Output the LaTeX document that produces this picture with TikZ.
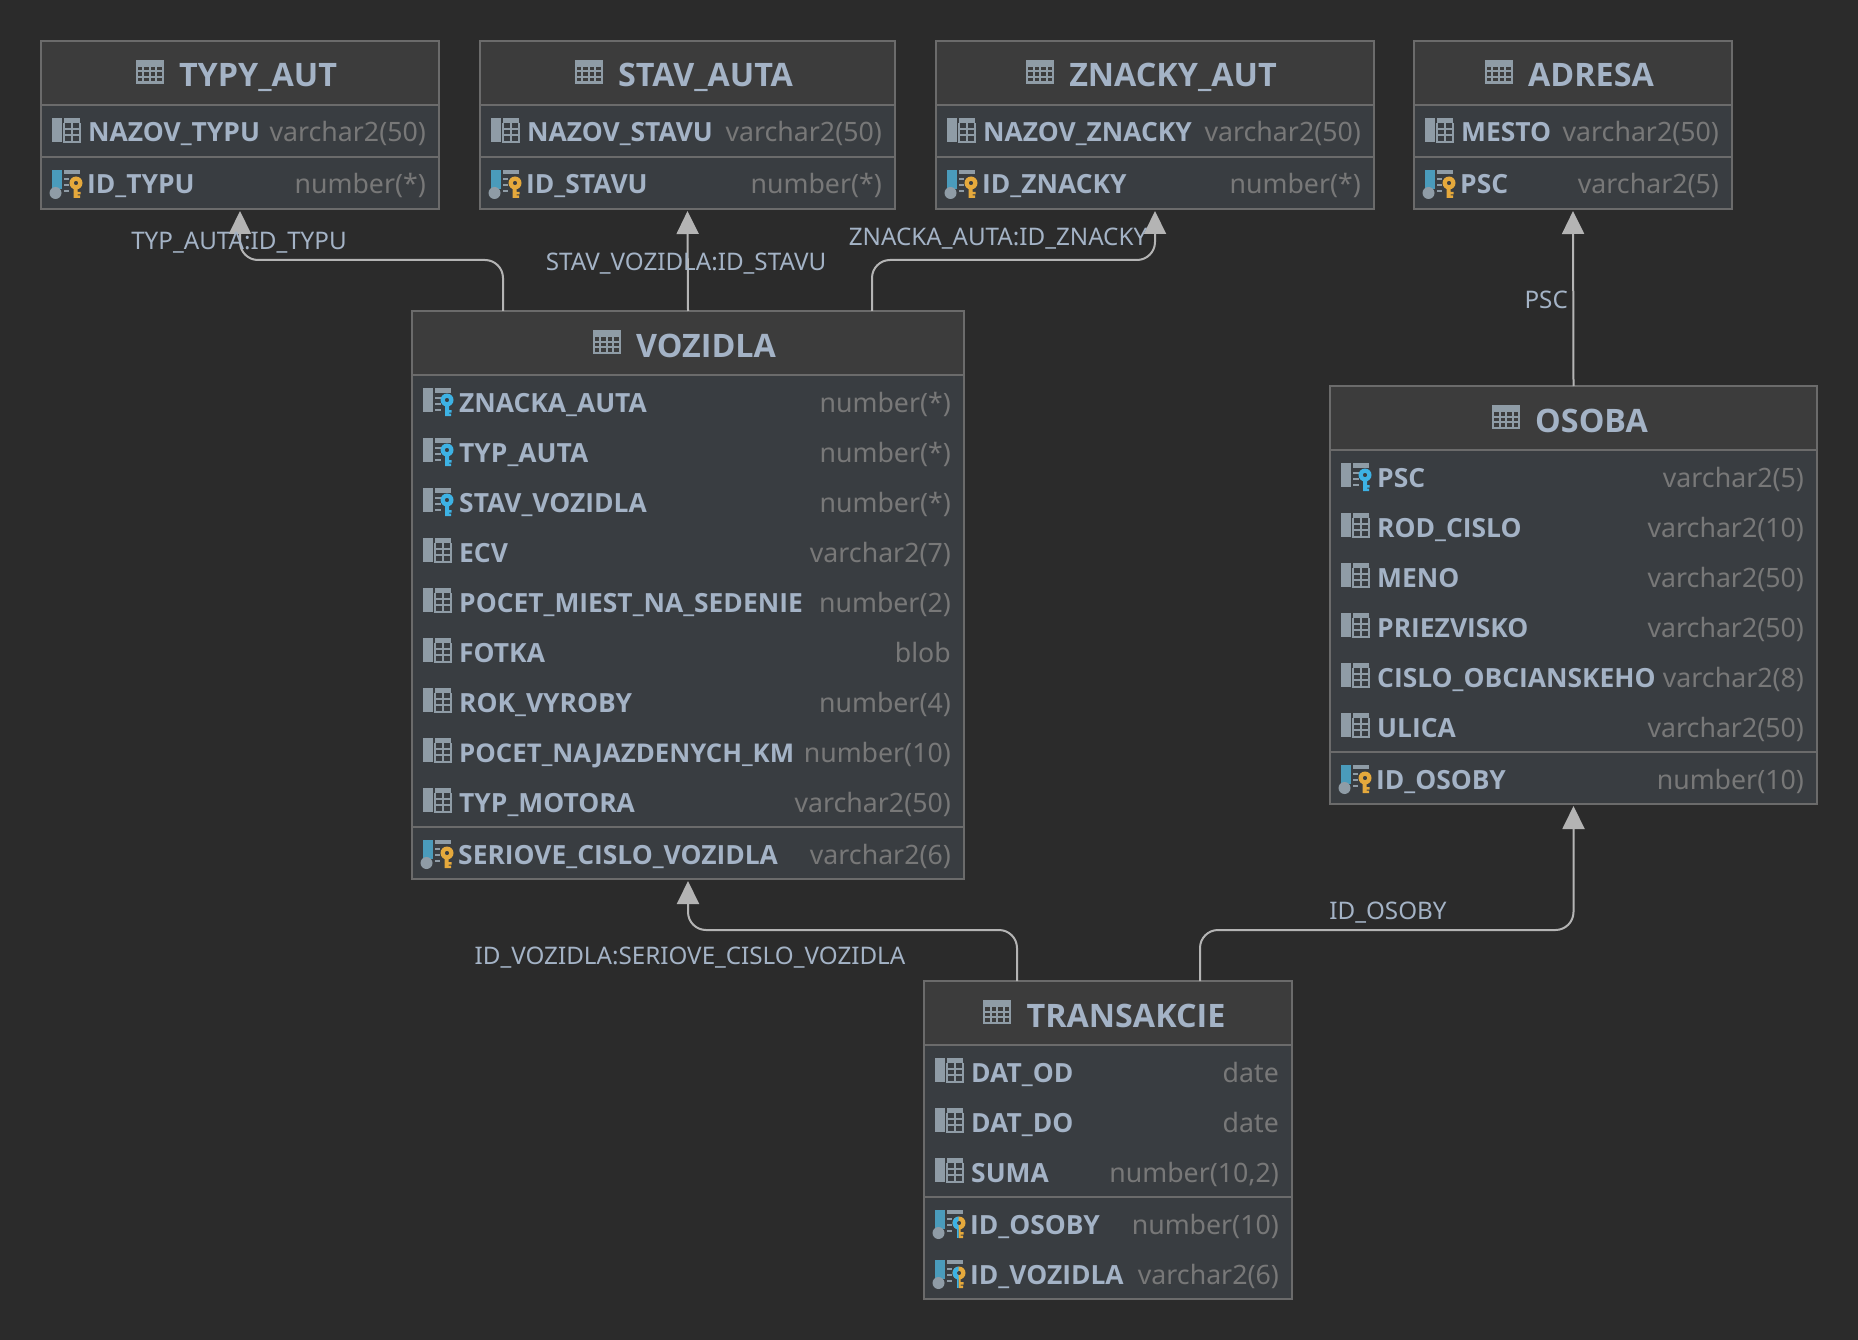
\documentclass[tikz,border=0pt]{standalone}
\usepackage{fontspec}
\setmainfont{Noto Sans}
\newfontfamily\dbbold{Open Sans}
\usepackage{tikz}
\usetikzlibrary{arrows.meta, calc, positioning}

\definecolor{canvasbg}{HTML}{2B2B2B}
\definecolor{headbg}{HTML}{3C3C3C}
\definecolor{rowbg}{HTML}{393D41}
\definecolor{edgegray}{HTML}{6B6B6B}
\definecolor{namecol}{HTML}{A4B3C6}
\definecolor{typecol}{HTML}{787878}
\definecolor{linkcol}{HTML}{B4B4B4}
\definecolor{iconcol}{HTML}{8F9CA6}
\definecolor{pkblue}{HTML}{4A9BBB}
\definecolor{keyyellow}{HTML}{E5A93C}
\definecolor{keyblue}{HTML}{3DB2E4}

\tikzset{
  tablebox/.style={draw=edgegray,fill=rowbg,line width=2pt,inner sep=0pt,outer sep=0pt},
  tableline/.style={edgegray,line width=2pt},
  titletext/.style={anchor=base,inner sep=0pt,text=namecol,font=\dbbold\bfseries\fontsize{32.3pt}{36pt}\selectfont},
  nametext/.style={anchor=base west,inner sep=0pt,text=namecol,font=\dbbold\bfseries\fontsize{26.4pt}{30pt}\selectfont},
  typetext/.style={anchor=base east,inner sep=0pt,text=typecol,font=\fontsize{26.7pt}{30pt}\selectfont},
  linktext/.style={anchor=base,inner sep=0pt,text=namecol,font=\fontsize{24.2pt}{28pt}\selectfont},
  fkline/.style={linkcol,line width=2pt,rounded corners=18pt,shorten >=2pt,
    -{Triangle[width=22pt,length=23pt]}},
  tableicon/.pic={
    \fill[iconcol] (0,0) rectangle (28,24);
    \foreach \cx in {2,8.5,15,21.5}
      \foreach \cy in {7,12.5,18}
        \fill[headbg] (\cx,\cy) rectangle ++(4.5,3.5);
  },
  colgrid/.pic={
    \fill[iconcol] (0,0) rectangle (10,24);
    \fill[iconcol] (12,0) rectangle (28,5);
    \draw[iconcol,line width=1.5pt] (12,5) -- (12,24) -- (28,24) -- (28,5)
      (12,11) -- (28,11) (12,17) -- (28,17) (20,5) -- (20,24);
  },
  pkbase/.pic={
    \fill[pkblue] (0,1) rectangle (10,20);
    \fill[iconcol] (3.5,24) circle (6);
    \fill[iconcol] (12,1) rectangle (28,5);
    \draw[iconcol,line width=1.5pt] (12,10) -- (17,10) (12,16) -- (17,16) (12,22) -- (17,22);
  },
  pkicon/.pic={
    \pic at (0,0) {pkbase};
    \fill[keyyellow,even odd rule] (24,14) circle (6.5) (24,14) circle (2.2);
    \fill[keyyellow] (21.5,19) rectangle (25.5,29) (25,23) rectangle (28.5,25.5) (25,26.5) rectangle (28,29);
  },
  pfkicon/.pic={
    \pic at (0,0) {pkbase};
    \fill[keyyellow,even odd rule] (24,14) circle (6.5) (24,14) circle (2.2);
    \fill[keyyellow] (23.5,19) rectangle (25.5,29) (25,23) rectangle (28.5,25.5) (25,26.5) rectangle (28,29);
    \begin{scope}
      \clip (15,5) rectangle (23.5,31);
      \fill[keyblue,even odd rule] (24,14) circle (6.5) (24,14) circle (2.2);
      \fill[keyblue] (21.5,19) rectangle (25.5,29);
    \end{scope}
  },
  fkicon/.pic={
    \fill[iconcol] (0,0) rectangle (10,24);
    \fill[iconcol] (12,0) rectangle (28,5);
    \draw[iconcol,line width=1.5pt] (12,10) -- (18,10) (12,16) -- (18,16) (12,22) -- (18,22);
    \fill[keyblue,even odd rule] (24,12) circle (6.5) (24,12) circle (2.2);
    \fill[keyblue] (22,17) rectangle (26,28) (25,22) rectangle (28.5,24.5) (25,25.5) rectangle (28,28);
  }
}

% name, left, right, top, separator, bottom, title, columns, key columns
\newcommand{\dbtable}[9]{
  \node[tablebox,minimum width={#3-#2},minimum height={#6-#4}] (#1) at ({(#2+#3)/2},{(#4+#6)/2}) {};
  \fill[headbg] ({#2+1},{#4+1}) rectangle ({#3-1},{#4+64});
  \draw[tableline] (#2,{#4+64}) -- (#3,{#4+64});
  \draw[tableline] (#2,#5) -- (#3,#5);
  \node[titletext] (#1-title) at ({(#2+#3)/2+18},{#4+46}) {#7};
  \pic at ($(#1-title.base west)+(-43,-27)$) {tableicon};
  \foreach \cname/\ctype/\cicon [count=\i] in {#8} {
    \pgfmathsetmacro{\rowy}{#4+92+(\i-1)*50}
    \pic at ({#2+11},{\rowy-15}) {\cicon};
    \node[nametext] (#1-name-\i) at ({#2+47},{\rowy+9}) {\cname};
    \node[typetext] (#1-type-\i) at ({#3-13},{\rowy+9}) {\ctype};
  }
  \foreach \cname/\ctype/\cicon [count=\i] in {#9} {
    \pgfmathsetmacro{\rowy}{#5+27+(\i-1)*50}
    \pic at ({#2+11},{\rowy-15}) {\cicon};
    \node[nametext] (#1-key-\i) at ({#2+46},{\rowy+10}) {\cname};
    \node[typetext] (#1-keytype-\i) at ({#3-13},{\rowy+10}) {\ctype};
  }
}

\begin{document}
\begin{tikzpicture}[x=1pt,y=-1pt]
  \fill[canvasbg] (0,0) rectangle (1858,1340);
  \useasboundingbox (0,0) rectangle (1858,1340);

  % Lookup tables along the top
  \dbtable{typy}{41}{439}{41}{157}{209}{TYPY\_AUT}
    {NAZOV\_TYPU/varchar2(50)/colgrid}{ID\_TYPU/number(*)/pkicon}
  \dbtable{stav}{480}{895}{41}{157}{209}{STAV\_AUTA}
    {NAZOV\_STAVU/varchar2(50)/colgrid}{ID\_STAVU/number(*)/pkicon}
  \dbtable{znacky}{936}{1374}{41}{157}{209}{ZNACKY\_AUT}
    {NAZOV\_ZNACKY/varchar2(50)/colgrid}{ID\_ZNACKY/number(*)/pkicon}
  \dbtable{adresa}{1414}{1732}{41}{157}{209}{ADRESA}
    {MESTO/varchar2(50)/colgrid}{PSC/varchar2(5)/pkicon}

  % Main tables
  \dbtable{vozidla}{412}{964}{311}{827}{879}{VOZIDLA}
    {ZNACKA\_AUTA/number(*)/fkicon,
     TYP\_AUTA/number(*)/fkicon,
     STAV\_VOZIDLA/number(*)/fkicon,
     ECV/varchar2(7)/colgrid,
     POCET\_MIEST\_NA\_SEDENIE/number(2)/colgrid,
     FOTKA/blob/colgrid,
     ROK\_VYROBY/number(4)/colgrid,
     {\fontsize{25.8pt}{30pt}\selectfont POCET\_NAJAZDENYCH\_KM}/number(10)/colgrid,
     TYP\_MOTORA/varchar2(50)/colgrid}{SERIOVE\_CISLO\_VOZIDLA/varchar2(6)/pkicon}
  \dbtable{osoba}{1330}{1817}{386}{752}{804}{OSOBA}
    {PSC/varchar2(5)/fkicon,
     ROD\_CISLO/varchar2(10)/colgrid,
     MENO/varchar2(50)/colgrid,
     PRIEZVISKO/varchar2(50)/colgrid,
     CISLO\_OBCIANSKEHO/varchar2(8)/colgrid,
     ULICA/varchar2(50)/colgrid}{ID\_OSOBY/number(10)/pkicon}
  \dbtable{transakcie}{924}{1292}{981}{1197}{1299}{TRANSAKCIE}
    {DAT\_OD/date/colgrid,
     DAT\_DO/date/colgrid,
     SUMA/{number(10,2)}/colgrid}{ID\_OSOBY/number(10)/pfkicon,ID\_VOZIDLA/varchar2(6)/pfkicon}

  % Free ends of the connectors
  \coordinate (typfrom) at ([xshift=91pt]vozidla.north west);
  \coordinate (znackafrom) at ([xshift=460pt]vozidla.north west);
  \coordinate (vozfrom) at ([xshift=93pt]transakcie.north west);
  \coordinate (osobafrom) at ([xshift=276pt]transakcie.north west);
  \coordinate (topbus) at (0,260);
  \coordinate (lowbus) at (0,930);

  \draw[fkline] (typfrom) -- (typfrom |- topbus) -| (typy.south);
  \draw[fkline] (vozidla.north) -- (stav.south);
  \draw[fkline] (znackafrom) -- (znackafrom |- topbus) -| (znacky.south);
  \draw[fkline] (osoba.north) -- (adresa.south);
  \draw[fkline] (vozfrom) -- (vozfrom |- lowbus) -| (vozidla.south);
  \draw[fkline] (osobafrom) -- (osobafrom |- lowbus) -| (osoba.south);

  \node[linktext] (typlabel) at (239,249.5) {TYP\_AUTA:ID\_TYPU};
  \node[linktext] (stavlabel) at (686,270.5) {STAV\_VOZIDLA:ID\_STAVU};
  \node[linktext] (znackalabel) at (998,245.5) {ZNACKA\_AUTA:ID\_ZNACKY};
  \node[linktext,anchor=base east] (psclabel) at (1568,308.5) {PSC};
  \node[linktext] (vozlabel) at (690,964.5) {ID\_VOZIDLA:SERIOVE\_CISLO\_VOZIDLA};
  \node[linktext] (osobalabel) at (1388,919.5) {ID\_OSOBY};
\end{tikzpicture}
\end{document}
